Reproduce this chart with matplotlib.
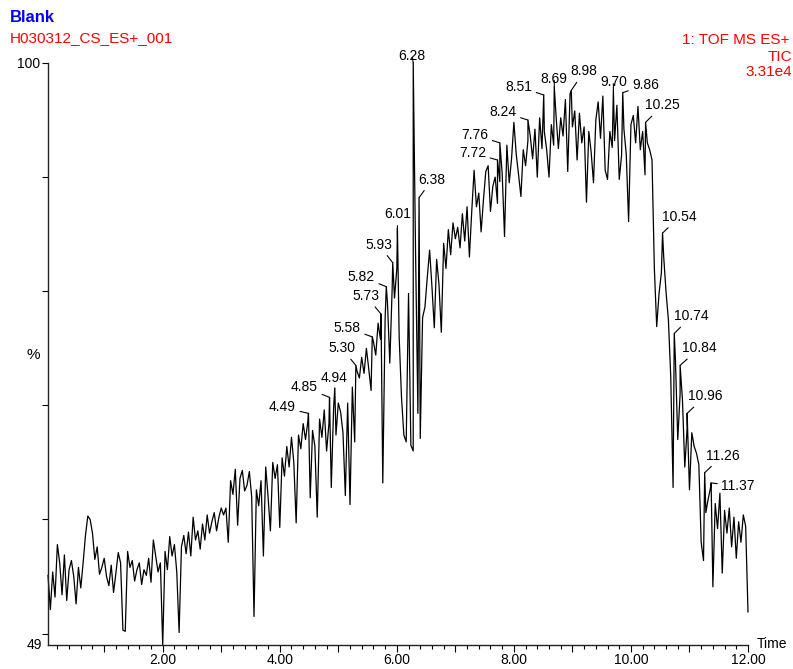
import numpy as np
import matplotlib
matplotlib.use('Agg')
import matplotlib.pyplot as plt
from matplotlib.ticker import MultipleLocator

plt.rcParams['font.family'] = ['Liberation Sans', 'DejaVu Sans']

# TIC trace in % of base peak, one scan every 0.04 min (0.04 .. 12.00)
scan_step = 0.04
tic_0 = [55.1, 52.1, 55.4, 53.2, 57.8, 56.2, 53.4, 56.9, 52.9, 55.6, 56.4, 55.0, 52.6,
         55.8, 54.0, 56.2, 58.6, 60.3, 60.0, 58.8, 56.5, 57.6, 55.2, 55.8, 56.6]
tic_1 = [55.0, 54.2, 56.0, 53.6, 55.3, 57.1, 56.2, 50.3, 50.2, 57.2, 55.8, 56.4, 54.6,
         55.6, 56.2, 54.3, 55.6, 55.1, 56.6, 54.5, 58.2, 56.8, 55.4, 56.2, 49.0]
tic_2 = [57.2, 55.6, 58.5, 56.8, 57.8, 55.4, 50.1, 57.6, 58.6, 57.0, 58.9, 56.8, 60.2,
         58.2, 59.0, 57.4, 59.6, 58.2, 60.4, 58.8, 59.8, 60.6, 59.0, 60.2, 61.0]
tic_3 = [60.4, 61.0, 58.0, 63.4, 62.2, 64.4, 59.5, 63.6, 64.3, 62.5, 63.0, 64.2, 62.0,
         51.5, 62.6, 61.2, 63.4, 56.8, 64.6, 62.0, 59.0, 65.0, 63.6, 64.8, 59.3]
tic_4 = [65.4, 63.8, 66.4, 64.6, 67.2, 65.0, 59.7, 67.4, 66.2, 68.4, 67.0, 68.6, 61.9,
         67.8, 66.4, 60.2, 68.8, 67.2, 69.6, 66.0, 68.4, 62.8, 69.8, 67.4, 70.2]
tic_5 = [69.4, 67.6, 62.1, 70.2, 61.3, 71.6, 66.8, 73.0, 72.4, 74.2, 72.8, 75.0, 73.2,
         71.3, 75.6, 74.4, 77.2, 75.8, 63.2, 77.6, 79.0, 73.7, 80.2, 79.4, 82.0]
tic_6 = [76.0, 70.7, 67.4, 66.8, 79.8, 66.5, 66.0, 83.4, 69.3, 67.1, 77.7, 78.6, 81.2,
         83.6, 80.4, 76.8, 82.8, 80.6, 76.4, 84.2, 82.0, 85.4, 83.2, 86.0, 84.6]
tic_7 = [85.6, 83.8, 86.8, 84.4, 87.4, 83.0, 87.0, 90.6, 87.4, 88.6, 85.2, 88.0, 90.5,
         91.0, 87.0, 89.2, 90.0, 87.7, 89.6, 90.3, 84.8, 92.8, 89.5, 91.6, 94.8]
tic_8 = [92.0, 90.2, 88.3, 92.4, 91.0, 93.2, 93.6, 91.6, 94.2, 90.0, 95.2, 92.5, 94.0,
         92.4, 90.0, 94.6, 92.8, 95.4, 92.5, 95.2, 93.6, 96.8, 90.5, 97.3, 94.4]
tic_9 = [95.8, 91.5, 95.6, 93.0, 94.4, 87.8, 94.0, 92.2, 89.5, 95.0, 96.6, 93.4, 97.1,
         90.6, 89.8, 94.0, 92.6, 93.2, 96.3, 89.8, 91.9, 94.2, 92.0, 86.1, 94.6]
tic_10 = [95.4, 93.0, 96.2, 92.4, 94.0, 90.2, 93.0, 92.4, 91.5, 82.0, 76.9, 79.8, 81.6,
          83.0, 79.9, 77.5, 72.5, 62.8, 74.0, 67.0, 71.0, 70.5, 64.6, 68.0, 62.6]
tic_11 = [67.6, 66.4, 65.8, 64.8, 58.0, 56.4, 60.6, 61.8, 62.8, 54.1, 61.4, 59.2, 62.3,
          55.3, 60.8, 58.8, 61.0, 57.6, 60.2, 56.6, 59.8, 58.0, 60.4, 59.4, 51.9]

tic_pct = (tic_0 + tic_1 + tic_2 + tic_3 + tic_4 + tic_5 + tic_6 + tic_7 + tic_8
           + tic_9 + tic_10 + tic_11)
scan_t = np.round(np.arange(1, len(tic_pct) + 1) * scan_step, 2)

# labelled peak apexes (retention time, %)
peak_t = [4.49, 4.85, 4.94, 5.30, 5.58, 5.73, 5.82, 5.93, 6.01, 6.28, 6.38, 7.72, 7.76,
          8.24, 8.51, 8.69, 8.98, 9.70, 9.86, 10.25, 10.54, 10.74, 10.84, 10.96, 11.26, 11.37]
peak_pct = [69.3, 70.7, 71.5, 73.5, 76.0, 78.0, 80.4, 82.5, 85.5, 100.0, 88.2, 91.5, 93.0,
            95.0, 97.2, 97.9, 97.6, 97.6, 97.4, 94.8, 85.1, 76.3, 73.5, 69.3, 64.1, 63.2]

# where each peak label sits relative to its apex (pixels, +y up)
label_dx = [-26, -25, -1, -14, -25, -15, -25, -14, 0, -1, 13, -25, -25,
            -25, -25, 0, 13, 0, 23, 17, 17, 17, 19, 18, 18, 27]
label_dy = [6, 10, 10, 17, 9, 18, 10, 18, 14, 7, 18, 7, 8,
            8, 8, 8, 19, 8, 8, 17, 16, 17, 17, 17, 17, -3]

t = np.concatenate([scan_t, peak_t])
pct = np.concatenate([tic_pct, peak_pct])
order = np.argsort(t, kind='stable')

fig = plt.figure(figsize=(7.93, 6.69), dpi=100)
ax = fig.add_axes([48 / 793, 24 / 669, 700 / 793, 582 / 669])

ax.plot(t[order], pct[order], color='black', lw=0.9, clip_on=False)
ax.set_xlim(0.04, 12.0)
ax.set_ylim(49, 100)

for side in ['top', 'right']:
    ax.spines[side].set_visible(False)
for side in ['left', 'bottom']:
    ax.spines[side].set_linewidth(1.0)
    ax.spines[side].set_color('#222222')

xt = np.arange(1, 13)
ax.set_xticks(xt)
ax.set_xticklabels(['%.2f' % v if v % 2 == 0 else '' for v in xt])
ax.xaxis.set_minor_locator(MultipleLocator(0.2))
ax.tick_params(axis='x', which='major', length=5, width=0.8, pad=1, labelsize=10)
ax.tick_params(axis='x', which='minor', length=2.8, width=0.8)

ax.set_yticks([50, 60, 70, 80, 90, 100])
ax.set_yticklabels(['', '', '', '', '', '100'])
ax.tick_params(axis='y', length=4.3, width=0.8, pad=1.5, labelsize=10)

ax.annotate('49', xy=(0, 49), xycoords=('axes fraction', 'data'), xytext=(-6, 0),
            textcoords='offset pixels', ha='right', va='center', fontsize=10)
ax.annotate('%', xy=(0, 74.4), xycoords=('axes fraction', 'data'), xytext=(-15, 0),
            textcoords='offset pixels', ha='center', va='center', fontsize=11)
ax.annotate('Time', xy=(1, 49), xycoords=('axes fraction', 'data'), xytext=(9, 1),
            textcoords='offset pixels', ha='left', va='center', fontsize=10)

for pt, pv, dx, dy in zip(peak_t, peak_pct, label_dx, label_dy):
    ax.annotate('%.2f' % pt, xy=(pt, pv), xytext=(dx, dy), textcoords='offset pixels',
                ha='center', va='center', fontsize=10, annotation_clip=False,
                arrowprops=dict(arrowstyle='-', lw=0.8, color='black',
                                shrinkA=1, shrinkB=0))

red = '#FF0000'
fig.text(10 / 793, 1 - 18 / 669, 'Blank', color='#0000FF', fontsize=12,
         fontweight='bold', ha='left', va='center')
fig.text(10 / 793, 1 - 38.5 / 669, 'H030312_CS_ES+_001', color=red, fontsize=11,
         ha='left', va='center')
fig.text(682 / 793, 1 - 40 / 669, '1: TOF MS ES+', color=red, fontsize=11,
         ha='left', va='center')
fig.text(792 / 793, 1 - 57 / 669, 'TIC', color=red, fontsize=11, ha='right', va='center')
fig.text(792 / 793, 1 - 72 / 669, '3.31e4', color=red, fontsize=11, ha='right',
         va='center')

fig.savefig('out.png', dpi=100)
